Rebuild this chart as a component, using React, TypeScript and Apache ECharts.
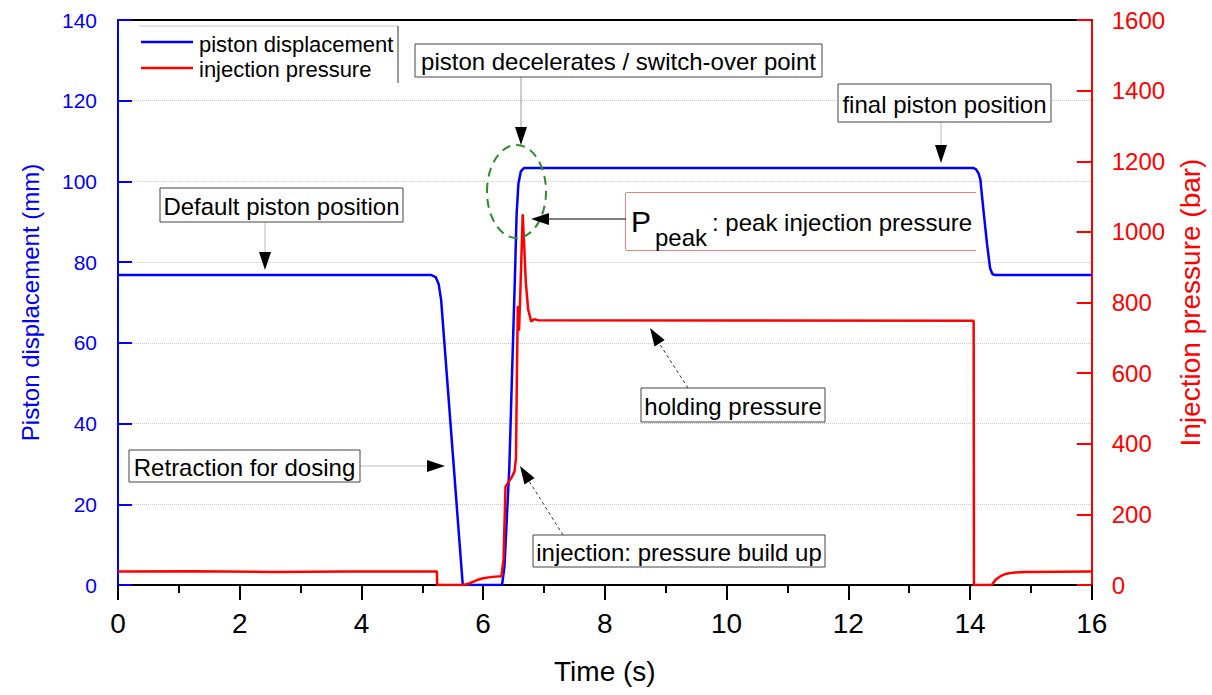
import React, { useEffect, useRef } from "react";
import * as echarts from "echarts";

// ---- data ----
const dispTime = [0, 5.15, 5.22, 5.27, 5.31, 5.4, 5.5, 5.6, 5.665, 6.31, 6.35, 6.43, 6.48, 6.52, 6.55, 6.58, 6.62, 6.67, 14.06, 14.1, 14.14, 14.17, 14.22, 14.28, 14.33, 14.37, 14.42, 16];
const dispValues = [76.8, 76.8, 76.3, 74.5, 70.6, 52.7, 32.8, 12.9, 0, 0, 4.5, 29, 55, 75, 92, 99.5, 102.5, 103.3, 103.3, 103, 102, 100.5, 93, 84.5, 78.5, 77, 76.8, 76.8];

const pressTime = [0, 1.2, 2.5, 3.8, 5.24, 5.245, 5.69, 5.78, 5.9, 6.0, 6.15, 6.3, 6.335, 6.367, 6.41, 6.47, 6.515, 6.54, 6.555, 6.57, 6.59, 6.615, 6.65, 6.675, 6.7, 6.74, 6.79, 6.84, 6.9, 10, 14.06, 14.065, 14.36, 14.42, 14.5, 14.6, 14.7, 14.9, 16];
const pressValues = [38, 39, 37, 38, 38, 0, 0, 5, 14, 19, 23, 25, 71, 278, 290, 305, 321, 360, 600, 790, 720, 850, 1050, 960, 860, 780, 746, 753, 750, 749, 748, 0, 0, 15, 25, 32, 35, 37, 38];

const xTicks = { min: 0, max: 16, interval: 2 };
const leftTicks = { min: 0, max: 140, interval: 20 };
const rightTicks = { min: 0, max: 1600, interval: 200 };

const seriesNames = ["piston displacement", "injection pressure"];
const seriesColors = ["#0000ff", "#ff0000"];
const FONT = "'Liberation Sans', Arial, sans-serif";

function zipPairs(xs: number[], ys: number[]) {
  return xs.map((x, i) => [x, ys[i]]);
}

function arrowHead(tipX: number, tipY: number, fromX: number, fromY: number, len: number, half: number) {
  const dx = fromX - tipX;
  const dy = fromY - tipY;
  const d = Math.sqrt(dx * dx + dy * dy);
  const ux = dx / d;
  const uy = dy / d;
  const bx = tipX + ux * len;
  const by = tipY + uy * len;
  return {
    type: "polygon",
    shape: { points: [[tipX, tipY], [bx - uy * half, by + ux * half], [bx + uy * half, by - ux * half]] },
    style: { fill: "#000" },
    z: 20,
  };
}

function box(x: number, y: number, w: number, h: number, text: string, stroke = "#444") {
  return [
    { type: "rect", shape: { x, y, width: w, height: h }, style: { fill: "#fff", stroke, lineWidth: 1 }, z: 15 },
    {
      type: "text",
      x: x + w / 2,
      y: y + h / 2 + 1,
      style: { text, fontSize: 24, fontFamily: FONT, fill: "#000", align: "center", verticalAlign: "middle" },
      z: 16,
    },
  ];
}

function line(x1: number, y1: number, x2: number, y2: number, color = "#888", dash?: number[], width = 1) {
  return {
    type: "line",
    shape: { x1, y1, x2, y2 },
    style: { stroke: color, lineWidth: width, lineDash: dash },
    z: 14,
  };
}

export default function App() {
  const ref = useRef<HTMLDivElement>(null);
  useEffect(() => {
    if (!ref.current) return;
    const chart = echarts.init(ref.current, undefined, { renderer: "svg" });
    const graphics: any[] = [
      // legend frame and line samples
      line(139, 26, 398, 26, "#c8c8c8"),
      line(398, 26, 398, 83, "#333"),
      line(141, 42, 193, 42, seriesColors[0], undefined, 2.5),
      line(141, 68, 193, 68, seriesColors[1], undefined, 2.5),
      // piston decelerates
      ...box(415, 44, 407, 33, "piston decelerates / switch-over point"),
      line(521, 77, 521, 130, "#999"),
      arrowHead(521, 145, 521, 77, 18, 6),
      {
        type: "ellipse",
        shape: { cx: 516.5, cy: 191.5, rx: 29.5, ry: 46.5 },
        style: { fill: "none", stroke: "#2e8b2e", lineWidth: 2, lineDash: [9, 6] },
        z: 14,
      },
      // default piston position
      ...box(160, 188, 243, 34, "Default piston position"),
      line(265, 222, 265, 254, "#bbb"),
      arrowHead(265, 270, 265, 222, 18, 6),
      // final piston position
      ...box(838, 84, 213, 38, "final piston position"),
      line(941, 122, 941, 148, "#bbb"),
      arrowHead(941, 163, 941, 122, 18, 6),
      // P peak
      { type: "rect", shape: { x: 626, y: 193, width: 350, height: 57 }, style: { fill: "#fff", stroke: "none" }, z: 15 },
      line(626, 193, 976, 193, "#e00000"),
      line(626, 250, 976, 250, "#e00000"),
      line(626, 193, 626, 250, "#e00000"),
      {
        type: "text", x: 631, y: 221,
        style: { text: "P", fontSize: 30, fontFamily: FONT, fill: "#000", align: "left", verticalAlign: "middle" }, z: 16,
      },
      {
        type: "text", x: 655, y: 237,
        style: { text: "peak", fontSize: 24, fontFamily: FONT, fill: "#000", align: "left", verticalAlign: "middle" }, z: 16,
      },
      {
        type: "text", x: 712, y: 222,
        style: { text: ": peak injection pressure", fontSize: 24, fontFamily: FONT, fill: "#000", align: "left", verticalAlign: "middle" }, z: 16,
      },
      line(626, 219, 546, 219, "#000"),
      arrowHead(531, 219, 626, 219, 18, 6),
      // holding pressure
      ...box(641, 388, 184, 34, "holding pressure"),
      line(688, 388, 659, 343, "#333", [3, 3]),
      arrowHead(650, 328, 688, 388, 18, 6),
      // injection: pressure build up
      ...box(533, 535, 292, 32, "injection: pressure build up"),
      line(563, 535, 529, 481, "#333", [3, 3]),
      arrowHead(520, 466, 563, 535, 18, 6),
      // retraction
      ...box(129, 450, 231, 32, "Retraction for dosing"),
      line(360, 466, 428, 466, "#bbb"),
      arrowHead(445, 466, 360, 466, 18, 6),
    ];

    const option: any = {
      animation: false,
      backgroundColor: "#fff",
      textStyle: { fontFamily: FONT },
      grid: { left: 118, right: 119, top: 20, bottom: 110, containLabel: false },
      legend: {
        data: seriesNames.map((n) => ({ name: n, icon: "none" })),
        orient: "vertical",
        left: 137,
        top: 27,
        itemWidth: 52,
        itemHeight: 24,
        itemGap: 2,
        textStyle: { fontSize: 22, color: "#000", fontFamily: FONT },
      },
      xAxis: [
        {
          type: "value",
          position: "bottom",
          min: xTicks.min,
          max: xTicks.max,
          interval: xTicks.interval,
          name: "Time (s)",
          nameLocation: "middle",
          nameGap: 72,
          nameTextStyle: { fontSize: 28, color: "#000", fontFamily: FONT },
          axisLine: { show: true, onZero: false, lineStyle: { color: "#000", width: 2 } },
          axisTick: { show: true, inside: false, length: 15, lineStyle: { color: "#000", width: 2 } },
          minorTick: { show: true, splitNumber: 2, length: 8, lineStyle: { color: "#000", width: 2 } },
          axisLabel: { fontSize: 28, color: "#000", margin: 24, fontFamily: FONT },
          splitLine: { show: false },
        },
        {
          type: "value",
          position: "top",
          min: xTicks.min,
          max: xTicks.max,
          axisLine: { show: true, onZero: false, lineStyle: { color: "#000", width: 2 } },
          axisTick: { show: false },
          axisLabel: { show: false },
          splitLine: { show: false },
        },
      ],
      yAxis: [
        {
          type: "value",
          position: "left",
          min: leftTicks.min,
          max: leftTicks.max,
          interval: leftTicks.interval,
          name: "Piston displacement (mm)",
          nameLocation: "middle",
          nameGap: 76,
          nameTextStyle: { fontSize: 24, color: "#0000ff", fontFamily: FONT },
          axisLine: { show: true, onZero: false, lineStyle: { color: "#0000ff", width: 2 } },
          axisTick: { show: true, inside: true, length: 14, lineStyle: { color: "#0000ff", width: 2 } },
          axisLabel: { fontSize: 21, color: "#0000ff", margin: 21, fontFamily: FONT },
          splitLine: { show: true, lineStyle: { color: "#c8c8c8", type: "dotted", width: 1 } },
        },
        {
          type: "value",
          position: "right",
          min: rightTicks.min,
          max: rightTicks.max,
          interval: rightTicks.interval,
          name: "Injection pressure (bar)",
          nameLocation: "middle",
          nameGap: 82,
          nameTextStyle: { fontSize: 28, color: "#ff0000", fontFamily: FONT },
          axisLine: { show: true, onZero: false, lineStyle: { color: "#ff0000", width: 2 } },
          axisTick: { show: true, inside: true, length: 15, lineStyle: { color: "#ff0000", width: 2 } },
          axisLabel: { fontSize: 24, color: "#ff0000", margin: 20, fontFamily: FONT, formatter: (v: number) => String(v) },
          splitLine: { show: false },
        },
      ],
      series: [
        {
          name: seriesNames[0],
          type: "line",
          xAxisIndex: 0,
          yAxisIndex: 0,
          data: zipPairs(dispTime, dispValues),
          symbol: "none",
          lineStyle: { color: seriesColors[0], width: 2.5 },
          itemStyle: { color: seriesColors[0] },
          z: 3,
        },
        {
          name: seriesNames[1],
          type: "line",
          xAxisIndex: 0,
          yAxisIndex: 1,
          data: zipPairs(pressTime, pressValues),
          symbol: "none",
          lineStyle: { color: seriesColors[1], width: 2.5 },
          itemStyle: { color: seriesColors[1] },
          z: 4,
        },
      ],
      graphic: graphics,
    };
    chart.setOption(option);
    return () => chart.dispose();
  }, []);
  return <div ref={ref} style={{ position: "fixed", left: 0, top: 0, width: 1212, height: 695 }} />;
}
